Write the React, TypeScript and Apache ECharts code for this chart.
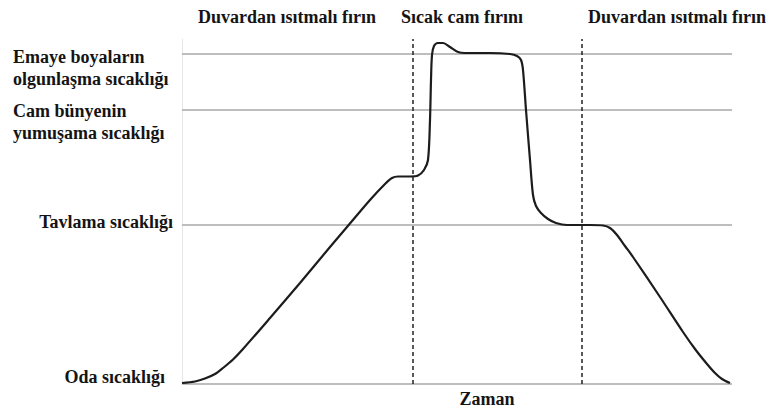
import React, { useEffect, useRef } from "react";
import * as echarts from "echarts";

// Time (arbitrary units) and temperature (arbitrary units)
const timeValues = [0, 13, 23, 33, 41, 51, 61, 88, 118, 148, 165, 188, 203, 210, 216, 228, 236, 242, 246, 248, 249, 250, 252, 256, 261, 268, 276, 283, 308, 328, 335, 339, 341, 344, 348, 351, 354, 359, 366, 374, 385, 408, 421, 428, 435, 443, 451, 478, 501, 513, 525, 533, 540, 548];
const tempValues = [1, 2.5, 5.5, 10, 16, 24.5, 35, 66, 101, 137, 157, 184, 200, 206, 207.5, 207.5, 208.5, 214, 224, 264, 304, 329, 338, 341, 341, 337, 332, 331, 331, 330, 328, 324, 314, 274, 224, 189, 178, 171, 165, 161, 159, 159, 158.5, 156, 149, 138, 127, 87, 52, 35, 20, 11, 5, 1];

// Reference temperature levels
const levelNames = ["Emaye boyaların olgunlaşma sıcaklığı", "Cam bünyenin yumuşama sıcaklığı", "Tavlama sıcaklığı", "Oda sıcaklığı"];
const levelValues = [330, 274, 159, 0];

// Furnace zones
const zoneNames = ["Duvardan ısıtmalı fırın", "Sıcak cam fırını", "Duvardan ısıtmalı fırın"];
const zoneBoundaries = [231, 400];

const xAxisName = "Zaman";

const FONT = '"Liberation Serif", "Times New Roman", serif';

export default function App() {
  const ref = useRef<HTMLDivElement>(null);
  useEffect(() => {
    document.body.style.margin = "0";
    const chart = echarts.init(ref.current!, undefined, { renderer: "svg" });
    const data = timeValues.map((t, i) => [t, tempValues[i]]);
    const txt = (text: string, x: number, y: number, align: string) => ({
      type: "text",
      x,
      y,
      style: {
        text,
        font: `bold 18px ${FONT}`,
        fill: "#141414",
        textAlign: align,
        textVerticalAlign: "middle",
      },
    });
    const graphic = [
      txt(zoneNames[0], 287, 16.5, "center"),
      txt(zoneNames[1], 462, 16.5, "center"),
      txt(zoneNames[2], 677, 16.5, "center"),
      txt("Emaye boyaların", 13, 57, "left"),
      txt("olgunlaşma sıcaklığı", 13, 79, "left"),
      txt("Cam bünyenin", 13, 111, "left"),
      txt("yumuşama sıcaklığı", 13, 133, "left"),
      txt(levelNames[2], 173, 222, "right"),
      txt(levelNames[3], 165, 377, "right"),
      txt(xAxisName, 487, 399, "center"),
    ];
    chart.setOption({
      animation: false,
      backgroundColor: "#ffffff",
      grid: { left: 182, right: 38, top: 39, bottom: 26 },
      xAxis: {
        type: "value",
        min: 0,
        max: 550,
        axisLine: { show: false },
        axisTick: { show: false },
        axisLabel: { show: false },
        splitLine: { show: false },
      },
      yAxis: {
        type: "value",
        min: 0,
        max: 345,
        axisLine: { show: true, lineStyle: { color: "#e6e6e6", width: 1 } },
        axisTick: { show: false },
        axisLabel: { show: false },
        splitLine: { show: false },
      },
      graphic,
      series: [
        {
          type: "line",
          data,
          showSymbol: false,
          smooth: 0.3,
          lineStyle: { color: "#1c1c1c", width: 2.2 },
          z: 5,
          markLine: {
            silent: true,
            symbol: ["none", "none"],
            label: { show: false },
            data: [
              ...levelValues.map((v) => ({
                yAxis: v,
                lineStyle: { color: "#a9a9a9", width: 1.5, type: "solid" },
              })),
              ...zoneBoundaries.map((x) => ({
                xAxis: x,
                lineStyle: { color: "#222222", width: 1.5, type: [4, 3] },
              })),
            ],
          },
        },
      ],
    });
    return () => chart.dispose();
  }, []);
  return (
    <div
      ref={ref}
      style={{ position: "fixed", left: 0, top: 0, width: 770, height: 410 }}
    />
  );
}
